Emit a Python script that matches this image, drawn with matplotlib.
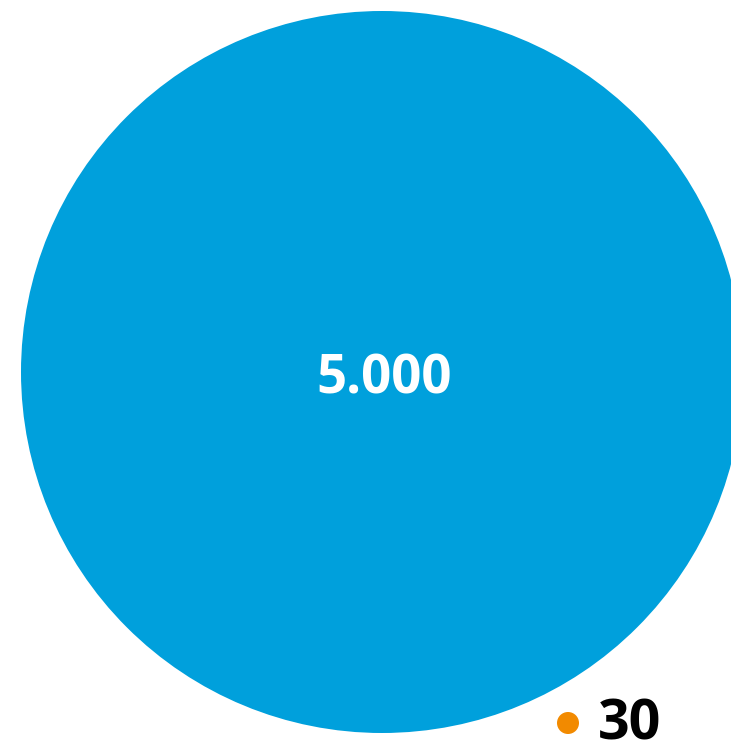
import numpy as np
import matplotlib
matplotlib.use("Agg")
import matplotlib.pyplot as plt
from matplotlib.patches import Circle

# data
labels = ["5.000", "30"]
values = [5000, 30]
colors = ["#00a0dc", "#f28a00"]

W, H = 731, 740
fig = plt.figure(figsize=(W / 100, H / 100), dpi=100)
ax = fig.add_axes([0, 0, 1, 1])
ax.set_xlim(0, W)
ax.set_ylim(H, 0)
ax.axis("off")

fam = ["Open Sans", "DejaVu Sans"]

# big bubble, area proportional to value
scale = 361 / np.sqrt(values[0])
r_big = scale * np.sqrt(values[0])
cx, cy = 382, 372
ax.add_patch(Circle((cx, cy), r_big, color=colors[0], lw=0))
ax.text(cx + 2, 394, labels[0], color="white", fontsize=38, fontweight="bold",
        family=fam, ha="center", va="baseline")

# small value shown as marker + label
ax.add_patch(Circle((568, 723), 11, color=colors[1], lw=0))
ax.text(598, 740, labels[1], color="black", fontsize=40, fontweight="bold",
        family=fam, ha="left", va="baseline", clip_on=False)

fig.savefig("out.png", dpi=100)
